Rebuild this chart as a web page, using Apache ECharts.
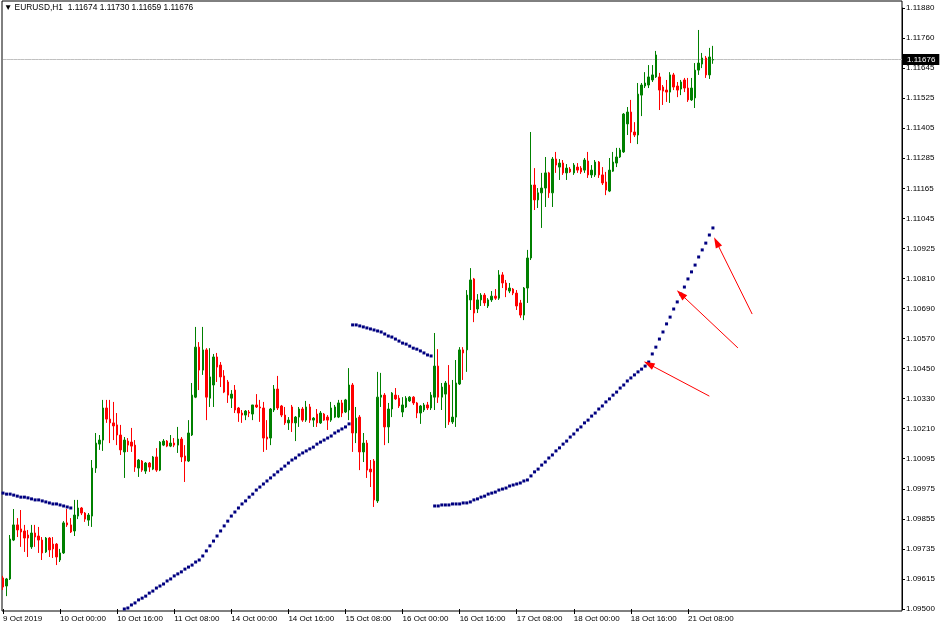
<!DOCTYPE html>
<html><head><meta charset="utf-8">
<script src="https://cdn.jsdelivr.net/npm/echarts@6.0.0/dist/echarts.min.js"></script>
<style>html,body{margin:0;padding:0;background:#fff}#c{width:942px;height:630px}</style>
</head><body><div id="c"></div>
<script>
const symbolName = 'EURUSD,H1';
const tradingDays = ['9 Oct','10 Oct','11 Oct','14 Oct','15 Oct','16 Oct','17 Oct','18 Oct','21 Oct','22 Oct','23 Oct'];
const firstHour = 8;
const xTickLabels = ['9 Oct 2019','10 Oct 00:00','10 Oct 16:00','11 Oct 08:00','14 Oct 00:00','14 Oct 16:00','15 Oct 08:00','16 Oct 00:00','16 Oct 16:00','17 Oct 08:00','18 Oct 00:00','18 Oct 16:00','21 Oct 08:00'];
const xTickEvery = 16;
const yTickLabels = ['1.09500','1.09615','1.09735','1.09855','1.09975','1.10095','1.10210','1.10330','1.10450','1.10570','1.10690','1.10810','1.10925','1.11045','1.11165','1.11285','1.11405','1.11525','1.11645','1.11760','1.11880'];
const yMin = 1.095, yStep = 0.00119, yMax = 1.1188;

const opens = [
1.09623,1.09591,1.09619,1.09773,1.09833,1.09817,1.09809,1.09793,1.09746,1.09801,
1.09789,1.09773,1.09726,1.09781,1.09757,1.09757,1.09694,1.09722,1.09841,1.09833,
1.09809,1.09868,1.09900,1.09880,1.09852,1.09868,1.10058,1.10153,1.10169,1.10296,
1.10252,1.10237,1.10229,1.10189,1.10122,1.10165,1.10161,1.10149,1.10058,1.10086,
1.10046,1.10078,1.10054,1.10102,1.10050,1.10149,1.10165,1.10145,1.10157,1.10149,
1.10173,1.10106,1.10086,1.10189,1.10339,1.10537,1.10446,1.10526,1.10335,1.10387,
1.10498,1.10466,1.10423,1.10399,1.10335,1.10367,1.10296,1.10276,1.10268,1.10280,
1.10272,1.10308,1.10300,1.10296,1.10181,1.10177,1.10288,1.10371,1.10304,1.10268,
1.10237,1.10300,1.10237,1.10260,1.10292,1.10248,1.10300,1.10248,1.10272,1.10237,
1.10272,1.10260,1.10248,1.10260,1.10260,1.10316,1.10280,1.10288,1.10387,1.10197,
1.10260,1.10122,1.10157,1.10054,1.10086,1.09928,1.10339,1.10347,1.10221,1.10292,
1.10347,1.10335,1.10280,1.10300,1.10324,1.10339,1.10316,1.10276,1.10288,1.10308,
1.10296,1.10339,1.10462,1.10339,1.10351,1.10387,1.10241,1.10260,1.10391,1.10526,
1.10526,1.10724,1.10807,1.10688,1.10724,1.10743,1.10700,1.10724,1.10739,1.10731,
1.10823,1.10791,1.10759,1.10767,1.10751,1.10712,1.10664,1.10771,1.10890,1.11179,
1.11120,1.11148,1.11167,1.11227,1.11148,1.11282,1.11250,1.11266,1.11227,1.11242,
1.11227,1.11250,1.11246,1.11238,1.11274,1.11219,1.11219,1.11270,1.11219,1.11191,
1.11155,1.11234,1.11266,1.11290,1.11310,1.11421,1.11468,1.11389,1.11377,1.11535,
1.11571,1.11575,1.11595,1.11607,1.11607,1.11567,1.11555,1.11547,1.11615,1.11571,
1.11559,1.11595,1.11563,1.11516,1.11524,1.11634,1.11658,1.11682,1.11615,1.11674];

const highs = [
1.09631,1.09623,1.09793,1.09896,1.09860,1.09892,1.09833,1.09813,1.09833,1.09833,
1.09825,1.09785,1.09785,1.09785,1.09785,1.09761,1.09738,1.09848,1.09896,1.09860,
1.09932,1.09932,1.09904,1.09884,1.09880,1.10090,1.10197,1.10189,1.10328,1.10328,
1.10328,1.10320,1.10276,1.10229,1.10181,1.10177,1.10217,1.10169,1.10094,1.10090,
1.10082,1.10082,1.10106,1.10137,1.10165,1.10173,1.10169,1.10189,1.10177,1.10221,
1.10181,1.10149,1.10248,1.10395,1.10617,1.10557,1.10617,1.10533,1.10533,1.10510,
1.10514,1.10478,1.10446,1.10407,1.10367,1.10387,1.10300,1.10288,1.10288,1.10288,
1.10308,1.10351,1.10328,1.10320,1.10248,1.10296,1.10387,1.10423,1.10308,1.10300,
1.10260,1.10308,1.10264,1.10300,1.10300,1.10324,1.10312,1.10260,1.10292,1.10284,
1.10276,1.10268,1.10320,1.10308,1.10328,1.10328,1.10332,1.10454,1.10395,1.10300,
1.10268,1.10197,1.10169,1.10090,1.10094,1.10439,1.10435,1.10355,1.10316,1.10359,
1.10375,1.10347,1.10339,1.10343,1.10343,1.10343,1.10320,1.10308,1.10316,1.10320,
1.10359,1.10593,1.10529,1.10395,1.10403,1.10466,1.10407,1.10486,1.10537,1.10537,
1.10763,1.10850,1.10811,1.10747,1.10751,1.10751,1.10731,1.10759,1.10767,1.10842,
1.10834,1.10803,1.10791,1.10771,1.10763,1.10724,1.10775,1.10922,1.11389,1.11246,
1.11167,1.11227,1.11290,1.11231,1.11290,1.11310,1.11282,1.11278,1.11262,1.11250,
1.11266,1.11266,1.11254,1.11286,1.11310,1.11258,1.11278,1.11274,1.11250,1.11231,
1.11286,1.11310,1.11326,1.11326,1.11464,1.11488,1.11516,1.11428,1.11583,1.11583,
1.11626,1.11654,1.11654,1.11710,1.11623,1.11575,1.11595,1.11626,1.11623,1.11587,
1.11595,1.11603,1.11603,1.11603,1.11662,1.11793,1.11702,1.11690,1.11722,1.11730];

const lows = [
1.09575,1.09551,1.09615,1.09769,1.09785,1.09746,1.09726,1.09706,1.09738,1.09746,
1.09722,1.09694,1.09722,1.09706,1.09702,1.09674,1.09686,1.09718,1.09825,1.09801,
1.09789,1.09856,1.09872,1.09845,1.09829,1.09825,1.10039,1.10130,1.10126,1.10237,
1.10157,1.10169,1.10149,1.10110,1.10019,1.10122,1.10122,1.10043,1.10023,1.10043,
1.10035,1.10043,1.10050,1.10043,1.10046,1.10145,1.10141,1.10141,1.10141,1.10118,
1.10082,1.10003,1.10082,1.10185,1.10335,1.10367,1.10427,1.10248,1.10300,1.10300,
1.10399,1.10379,1.10355,1.10316,1.10296,1.10276,1.10241,1.10237,1.10248,1.10260,
1.10248,1.10296,1.10241,1.10122,1.10130,1.10149,1.10280,1.10288,1.10260,1.10229,
1.10209,1.10201,1.10165,1.10221,1.10241,1.10241,1.10237,1.10221,1.10221,1.10233,
1.10245,1.10209,1.10241,1.10256,1.10256,1.10260,1.10276,1.10248,1.10122,1.10157,
1.10050,1.10082,1.10019,1.09983,1.09904,1.09920,1.10300,1.10149,1.10157,1.10260,
1.10328,1.10296,1.10260,1.10296,1.10320,1.10308,1.10256,1.10233,1.10280,1.10288,
1.10288,1.10288,1.10316,1.10288,1.10217,1.10229,1.10233,1.10221,1.10387,1.10407,
1.10439,1.10684,1.10636,1.10672,1.10700,1.10700,1.10692,1.10716,1.10724,1.10724,
1.10771,1.10735,1.10751,1.10743,1.10684,1.10653,1.10644,1.10712,1.10882,1.11080,
1.11088,1.11009,1.11092,1.11128,1.11092,1.11227,1.11199,1.11219,1.11199,1.11227,
1.11219,1.11227,1.11223,1.11227,1.11207,1.11207,1.11211,1.11207,1.11179,1.11139,
1.11151,1.11231,1.11250,1.11286,1.11306,1.11377,1.11345,1.11369,1.11341,1.11452,
1.11563,1.11563,1.11587,1.11603,1.11476,1.11496,1.11508,1.11504,1.11555,1.11527,
1.11535,1.11547,1.11508,1.11512,1.11484,1.11615,1.11642,1.11603,1.11599,1.11659];

const closes = [
1.09587,1.09619,1.09777,1.09833,1.09813,1.09805,1.09781,1.09781,1.09801,1.09785,
1.09773,1.09722,1.09781,1.09734,1.09738,1.09706,1.09722,1.09841,1.09833,1.09805,
1.09872,1.09900,1.09880,1.09856,1.09872,1.10058,1.10157,1.10169,1.10296,1.10252,
1.10237,1.10225,1.10189,1.10130,1.10169,1.10149,1.10145,1.10062,1.10090,1.10050,
1.10078,1.10062,1.10102,1.10050,1.10161,1.10165,1.10145,1.10157,1.10149,1.10173,
1.10102,1.10086,1.10197,1.10347,1.10537,1.10446,1.10526,1.10339,1.10419,1.10498,
1.10458,1.10419,1.10359,1.10347,1.10351,1.10288,1.10276,1.10268,1.10284,1.10276,
1.10308,1.10300,1.10296,1.10177,1.10173,1.10292,1.10371,1.10296,1.10268,1.10237,
1.10248,1.10237,1.10260,1.10292,1.10248,1.10300,1.10248,1.10256,1.10237,1.10276,
1.10248,1.10248,1.10296,1.10300,1.10316,1.10276,1.10328,1.10387,1.10197,1.10256,
1.10122,1.10157,1.10050,1.10043,1.09932,1.10339,1.10347,1.10221,1.10292,1.10355,
1.10332,1.10304,1.10308,1.10335,1.10339,1.10316,1.10276,1.10304,1.10308,1.10296,
1.10347,1.10462,1.10339,1.10379,1.10395,1.10241,1.10260,1.10395,1.10526,1.10514,
1.10743,1.10803,1.10672,1.10724,1.10743,1.10712,1.10724,1.10739,1.10731,1.10823,
1.10791,1.10763,1.10771,1.10751,1.10700,1.10664,1.10771,1.10890,1.11179,1.11120,
1.11148,1.11167,1.11227,1.11148,1.11282,1.11258,1.11266,1.11227,1.11246,1.11231,
1.11258,1.11238,1.11231,1.11278,1.11219,1.11238,1.11270,1.11219,1.11187,1.11159,
1.11238,1.11270,1.11290,1.11318,1.11460,1.11468,1.11389,1.11377,1.11539,1.11575,
1.11583,1.11607,1.11615,1.11694,1.11555,1.11551,1.11547,1.11615,1.11567,1.11555,
1.11587,1.11563,1.11516,1.11563,1.11634,1.11662,1.11682,1.11615,1.11686,1.11676];

// dotted indicator, one dot per bar, in four separate runs
const dotSeg1Start = 0;
const dotSeg1 = [1.09959,1.09955,1.09955,1.09951,1.09947,1.09943,1.09943,1.09940,1.09936,1.09932,
1.09932,1.09928,1.09924,1.09920,1.09916,1.09916,1.09912,1.09908,1.09904,1.09900];
const dotSeg2Start = 34;
const dotSeg2 = [1.09500,1.09504,1.09516,1.09524,1.09536,1.09543,1.09551,1.09563,1.09571,1.09583,
1.09591,1.09599,1.09611,1.09619,1.09631,1.09639,1.09647,1.09658,1.09666,1.09674,1.09686,1.09694,
1.09710,1.09730,1.09750,1.09769,1.09789,1.09809,1.09829,1.09848,1.09868,1.09884,1.09900,
1.09916,1.09928,1.09943,1.09955,1.09971,1.09983,1.09995,1.10007,1.10019,1.10031,1.10043,1.10054,1.10066,1.10078,1.10090,
1.10098,1.10110,1.10118,1.10126,1.10134,1.10141,1.10153,1.10161,1.10169,1.10177,1.10185,1.10197,1.10205,1.10213,1.10221,1.10233];
const dotSeg3Start = 98;
const dotSeg3 = [1.10625,1.10625,1.10621,1.10617,1.10613,1.10609,1.10605,1.10601,1.10597,1.10589,
1.10581,1.10577,1.10569,1.10561,1.10553,1.10549,1.10541,1.10533,1.10529,1.10522,1.10514,1.10506,1.10502];
const dotSeg4Start = 121;
const dotSeg4 = [1.09908,1.09908,1.09912,1.09912,1.09912,1.09916,1.09916,1.09916,1.09920,1.09920,1.09924,
1.09932,1.09936,1.09943,1.09947,1.09955,1.09959,1.09963,1.09971,1.09975,1.09979,1.09987,1.09991,1.09995,1.09999,1.10007,1.10011,
1.10027,1.10043,1.10054,1.10070,1.10082,1.10098,1.10110,1.10126,1.10138,1.10153,1.10165,1.10181,1.10193,1.10209,1.10221,1.10237,1.10248,1.10264,1.10276,1.10292,1.10304,1.10320,1.10332,1.10347,1.10359,1.10375,1.10387,1.10403,1.10415,
1.10427,1.10439,1.10450,1.10462,1.10478,
1.10510,1.10537,1.10569,1.10597,1.10629,1.10656,1.10688,1.10716,1.10747,
1.10775,1.10807,1.10835,1.10862,1.10894,1.10922,1.10949,1.10981,1.11009];

// red annotation arrows: [bar index, price] tail -> head
const arrowTails = [[198,1.10343],[206,1.10534],[210,1.10668]];
const arrowHeads = [[181,1.10470],[190,1.10747],[200,1.10953]];

// ---- build ----
const FONT = 'Liberation Sans';
const nSlots = 253;
const categories = [];
{
  let h = firstHour, d = 0;
  while (categories.length < nSlots) {
    categories.push(tradingDays[d] + ' ' + String(h).padStart(2,'0') + ':00');
    h++; if (h === 24) { h = 0; d++; }
  }
}
const candleData = opens.map((o,i)=>[o, closes[i], lows[i], highs[i]]);
const blueDots = new Array(opens.length).fill(null);
[[dotSeg1Start,dotSeg1],[dotSeg2Start,dotSeg2],[dotSeg3Start,dotSeg3],[dotSeg4Start,dotSeg4]]
  .forEach(([s,arr])=>arr.forEach((v,k)=>{ blueDots[s+k] = v; }));
const last = opens.length - 1;
const lastClose = closes[last];
const header = '\u25BC ' + symbolName + '  ' + [opens[last], highs[last], lows[last], closes[last]].map(v=>v.toFixed(5)).join(' ');
const isTick = (idx)=> idx % xTickEvery === 0 && idx / xTickEvery < xTickLabels.length;
const priceLine = categories.map(()=>lastClose);

const chart = echarts.init(document.getElementById('c'), null, {renderer:'canvas'});
chart.setOption({
  animation:false,
  backgroundColor:'#ffffff',
  title:{text:header, left:4, top:4, padding:0,
    textStyle:{fontSize:8.4, fontWeight:'normal', color:'#000', fontFamily:FONT}},
  grid:[
    {left:3, right:40, top:8, bottom:21},
    {left:2, right:40, top:1, bottom:19, show:true, borderColor:'#000', borderWidth:1, backgroundColor:'transparent'}
  ],
  xAxis:[
    {type:'category', data:categories, boundaryGap:false,
      axisLine:{show:false},
      axisTick:{show:true, length:5, interval:isTick, lineStyle:{color:'#000'}},
      axisLabel:{interval:isTick, formatter:(v,idx)=>xTickLabels[idx/xTickEvery] || '', align:'left',
        margin:6, color:'#000', fontSize:8, fontFamily:FONT},
      splitLine:{show:false}},
    {gridIndex:1, type:'value', show:false}
  ],
  yAxis:[
    {type:'value', position:'right', min:yMin, max:yMax, interval:yStep,
      axisLine:{show:true, lineStyle:{color:'#000'}},
      axisTick:{show:true, length:3, lineStyle:{color:'#000'}},
      splitLine:{show:false},
      axisLabel:{margin:4, color:'#000', fontSize:8, fontFamily:FONT,
        formatter:(v)=>yTickLabels[Math.round((v - yMin)/yStep)] || ''}},
    {gridIndex:1, type:'value', show:false}
  ],
  series:[
    {type:'line', data:priceLine, symbol:'none', silent:true, z:1,
      lineStyle:{color:'#c0c0c0', width:1},
      endLabel:{show:true, distance:1, formatter:()=>lastClose.toFixed(5),
        backgroundColor:'#000', color:'#fff', padding:[2,4,1,4], fontSize:8, fontFamily:FONT}},
    {type:'candlestick', data:candleData, barWidth:2, z:2,
      itemStyle:{color:'#008000', color0:'#ff0000', borderColor:'#008000', borderColor0:'#ff0000', borderWidth:1}},
    {type:'line', data:blueDots, symbol:'rect', symbolSize:3, showAllSymbol:true, connectNulls:false, z:3,
      silent:true, lineStyle:{width:0, opacity:0}, itemStyle:{color:'#000080'},
      markLine:{silent:true, animation:false, symbol:['none','triangle'], symbolSize:[7,11],
        lineStyle:{color:'#ff0000', width:1, type:'solid'}, label:{show:false},
        emphasis:{disabled:true},
        data:arrowTails.map((t,k)=>[{coord:t},{coord:arrowHeads[k]}])}}
  ]
});
</script></body></html>
